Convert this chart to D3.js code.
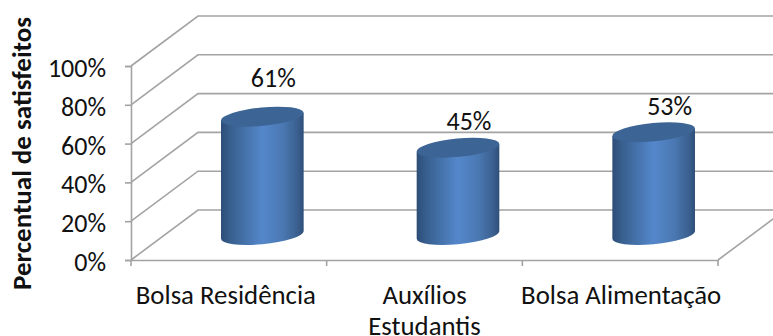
<!DOCTYPE html>
<html><head><meta charset="utf-8">
<script src="https://cdn.jsdelivr.net/npm/d3@7/dist/d3.min.js"></script>
<style>html,body{margin:0;padding:0;background:#fff}svg{display:block}text{font-family:Carlito,Lato,"Open Sans",sans-serif;fill:#111}</style>
</head><body><svg id="c" width="773" height="336"></svg>
<script>
const categories = [["Bolsa Residência"], ["Auxílios", "Estudantis"], ["Bolsa Alimentação"]];
const values = [61, 45, 53];
const valueLabels = ["61%", "45%", "53%"];
const yTicks = [0, 20, 40, 60, 80, 100];
const axisTitle = "Percentual de satisfeitos";

const svg = d3.select("#c");
const depth = {dx: 67, dy: -50};
const y = d3.scaleLinear().domain([0, 100]).range([260, 66]);
const x = d3.scaleBand().domain(d3.range(categories.length)).range([131, 718]);
const grey = "#a3a3a3";

const defs = svg.append("defs");
const g = defs.append("linearGradient").attr("id", "body");
[[0, "#2d4d78"], [.12, "#38608f"], [.5, "#5487cb"], [.75, "#4a78b2"], [.93, "#3a5f8e"], [1, "#2e4e78"]]
  .forEach(s => g.append("stop").attr("offset", s[0]).attr("stop-color", s[1]));

// back wall + side wall gridlines
const grid = svg.append("g").attr("fill", "none").attr("stroke", grey).attr("stroke-width", 1.6);
yTicks.forEach(t => {
  grid.append("path").attr("d", d3.line()([
    [x.range()[0], y(t)], [x.range()[0] + depth.dx, y(t) + depth.dy], [773, y(t) + depth.dy]]));
});
// floor right edge
grid.append("path").attr("d", d3.line()([[x.range()[1], y(0)], [x.range()[1] + depth.dx, y(0) + depth.dy]]));

// value axis
const yAxis = svg.append("g").attr("transform", `translate(${x.range()[0]},0)`)
  .call(d3.axisLeft(y).tickValues(yTicks).tickFormat(d => d + "%").tickSize(6).tickPadding(19));
// category axis
const xAxis = svg.append("g").attr("transform", `translate(0,${y(0)})`)
  .call(d3.axisBottom(x).tickValues([]).tickSize(0));
[...x.domain(), categories.length].forEach(i => {
  const px = x.range()[0] + i * x.step();
  xAxis.append("line").attr("x1", px).attr("x2", px).attr("y1", 0).attr("y2", 6).attr("stroke", grey).attr("stroke-width", 1.6);
});
svg.selectAll(".domain").attr("stroke", grey).attr("stroke-width", 1.6);
yAxis.selectAll("line").attr("stroke", grey).attr("stroke-width", 1.6);
yAxis.selectAll("text").attr("font-size", 26).attr("dy", "0.4em").style("fill", "#111");

// cylinders
const rx = 41.5, ry = 9.2, rot = -5.5, r = rot * Math.PI / 180;
const ex = Math.sqrt(rx*rx*Math.cos(r)**2 + ry*ry*Math.sin(r)**2);
const ey = (rx*rx - ry*ry) * Math.sin(r) * Math.cos(r) / ex;
const bars = svg.append("g").selectAll("g").data(values).join("g")
  .attr("transform", (d, i) => `translate(${x(i) + x.bandwidth()/2 + depth.dx/2},${depth.dy/2})`);
bars.append("path").attr("fill", "url(#body)").attr("d", d => {
  const t = y(d), b = y(0);
  return `M${-ex},${t - ey} L${ex},${t + ey} L${ex},${b + ey} A${rx},${ry} ${rot} 0 1 ${-ex},${b - ey} Z`;
});
bars.append("ellipse").attr("rx", rx).attr("ry", ry).attr("fill", "#3c6494")
  .attr("transform", d => `translate(0,${y(d)}) rotate(${rot})`);

// value labels
const labelNudges = [[11, -36], [11, -24], [16, -23]];
svg.append("g").selectAll("text").data(values).join("text")
  .attr("text-anchor", "middle").attr("dominant-baseline", "middle").attr("font-size", 26)
  .attr("x", (d, i) => x(i) + x.bandwidth()/2 + depth.dx/2 + labelNudges[i][0])
  .attr("y", (d, i) => y(d) + depth.dy/2 + labelNudges[i][1])
  .text((d, i) => valueLabels[i]);

// category labels
const catNudges = [-3, 0, 1];
const catT = svg.append("g").selectAll("text").data(categories).join("text")
  .attr("text-anchor", "middle").attr("font-size", 26.8)
  .attr("transform", (d, i) => `translate(${x(i) + x.bandwidth()/2 + catNudges[i]},304)`);
catT.selectAll("tspan").data(d => d).join("tspan")
  .attr("x", 0).attr("dy", (d, i) => i ? 31 : 0).text(d => d);

svg.append("text").attr("transform", "translate(31,153.5) rotate(-90)")
  .attr("text-anchor", "middle").attr("font-size", 27).attr("font-weight", 700).text(axisTitle);
</script></body></html>
